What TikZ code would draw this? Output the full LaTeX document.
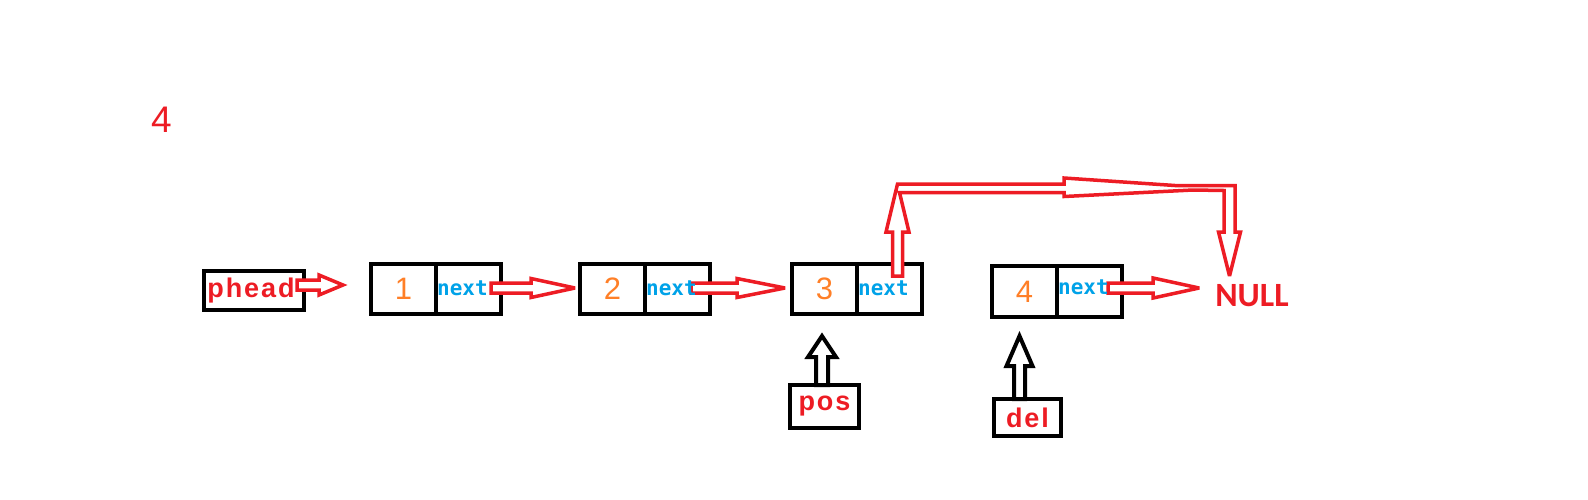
\documentclass[tikz,border=0pt]{standalone}
\usepackage{fontspec}
\setmainfont{Liberation Sans}
\newfontfamily\monofnt{DejaVu Sans Mono}
\newfontfamily\nullfnt{Carlito}
\newfontfamily\lblfnt[LetterSpace=7]{Liberation Sans}
\usetikzlibrary{calc}
\definecolor{pred}{RGB}{237,28,36}
\definecolor{porange}{RGB}{255,127,39}
\definecolor{pblue}{RGB}{0,162,232}
% #1 style, #2 from, #3 to, #4 shaft half width, #5 head half width, #6 head length
\newcommand\fatarrow[6]{%
  \coordinate (fab) at ($(#3)!#6!(#2)$);
  \draw[#1] ($(#2)!#4!90:(#3)$) -- ($(fab)!#4!-90:(#2)$) -- ($(fab)!#5!-90:(#2)$)
    -- (#3) -- ($(fab)!#5!90:(#2)$) -- ($(fab)!#4!90:(#2)$) -- ($(#2)!#4!-90:(#3)$) -- cycle;
}
\begin{document}
\begin{tikzpicture}[x=1pt,y=-1pt,
  cell/.style={draw=black,line width=4pt,minimum width=65pt,minimum height=50pt,
    inner sep=0pt,outer sep=0pt,text=porange,font=\fontsize{31}{36}\selectfont},
  lbox/.style={draw=black,line width=4pt,inner sep=0pt,outer sep=0pt,text=pred,
    font=\lblfnt\bfseries\fontsize{27}{32}\selectfont},
  nexttxt/.style={text=pblue,font=\monofnt\bfseries\fontsize{21}{24}\selectfont,
    inner sep=0pt,anchor=base west},
  redfat/.style={draw=pred,fill=white,line width=3.5pt,line join=miter,miter limit=3},
  blackfat/.style={draw=black,fill=white,line width=4pt,line join=miter,miter limit=3}]

\useasboundingbox (0,0) rectangle (1588,499);

\node[text=pred,inner sep=0pt,font=\fontsize{37}{42}\selectfont] (four) at (161.5,119.5) {4};

\node[lbox,minimum width=100pt,minimum height=39pt] (phead) at (254,290.5) {phead\kern6pt};

\node[cell] (n1l) at (403.5,289) {1};
\node[cell,anchor=west] (n1r) at (n1l.east) {};
\node[cell] (n2l) at (612.5,289) {2};
\node[cell,anchor=west] (n2r) at (n2l.east) {};
\node[cell] (n3l) at (824.5,289) {3};
\node[cell,anchor=west] (n3r) at (n3l.east) {};
\node[cell,minimum height=51pt] (n4l) at (1024.5,291.5) {4};
\node[cell,minimum height=51pt,anchor=west] (n4r) at (n4l.east) {};

\node[lbox,minimum width=69pt,minimum height=43pt] (pos) at (824.5,406.5) {pos};
\node[lbox,minimum width=67pt,minimum height=37pt] (del) at (1027.5,417.5) {del};

\node[text=pred,inner sep=0pt,font=\nullfnt\bfseries\fontsize{34}{40}\selectfont] (null) at (1252,296) {NULL};

% arrow end points
\coordinate (a0s) at ($(phead.east)+(-7,-5.5)$);
\coordinate (a0e) at ($(n1l.west)+(-28,-4)$);
\coordinate (a1s) at ($(n1r.east)+(-10,-1)$);
\coordinate (a1e) at ($(n2l.west)+(-5,-1)$);
\coordinate (a2s) at ($(n2r.east)+(-19,-1)$);
\coordinate (a2e) at ($(n3l.west)+(-7,-1)$);
\coordinate (a4s) at ($(n4r.east)+(-14,-3.5)$);
\coordinate (a4e) at ($(null.west)+(-16,-8)$);
\coordinate (bps) at ($(pos.north)+(-2.5,0)$);
\coordinate (bpe) at ($(n3l.south)+(-2.5,22)$);
\coordinate (bds) at ($(del.north)+(-8,0)$);
\coordinate (bde) at ($(n4l.south)+(-5,19)$);
\coordinate (upbot) at ($(n3r.north)+(8,12)$);

\fatarrow{redfat}{a0s}{a0e}{5pt}{10pt}{24pt}
\fatarrow{redfat}{a1s}{a1e}{5pt}{9.5pt}{44pt}
\fatarrow{redfat}{a2s}{a2e}{5pt}{9.5pt}{48pt}
\fatarrow{redfat}{a4s}{a4e}{5pt}{10pt}{46pt}
\fatarrow{blackfat}{bps}{bpe}{6pt}{14pt}{21pt}
\fatarrow{blackfat}{bds}{bde}{5.5pt}{13pt}{30pt}

% next of 3 redirected to NULL
\begin{scope}[shift={(upbot)}]
\draw[redfat] (-5,0) -- (-5,-44) -- (-11.5,-44) -- (0,-92) -- (166.5,-92) -- (166.5,-98)
  -- (277.5,-90.5) -- (337.5,-90.5) -- (337.5,-44) -- (343,-44) -- (332,0)
  -- (321,-44) -- (326.5,-44) -- (326.5,-85.5) -- (295.5,-86) -- (166.5,-79.5)
  -- (166.5,-83.5) -- (2,-83.5) -- (11.5,-44) -- (5,-44) -- (5,0) -- cycle;
\end{scope}

\node[nexttxt] (n1t) at ($(n1r.west)+(1,6)$) {next};
\node[nexttxt] (n2t) at ($(n2r.west)+(1,6)$) {next};
\node[nexttxt] (n3t) at ($(n3r.west)+(1,6)$) {next};
\node[nexttxt] (n4t) at ($(n4r.west)+(1,3)$) {next};
\end{tikzpicture}
\end{document}
